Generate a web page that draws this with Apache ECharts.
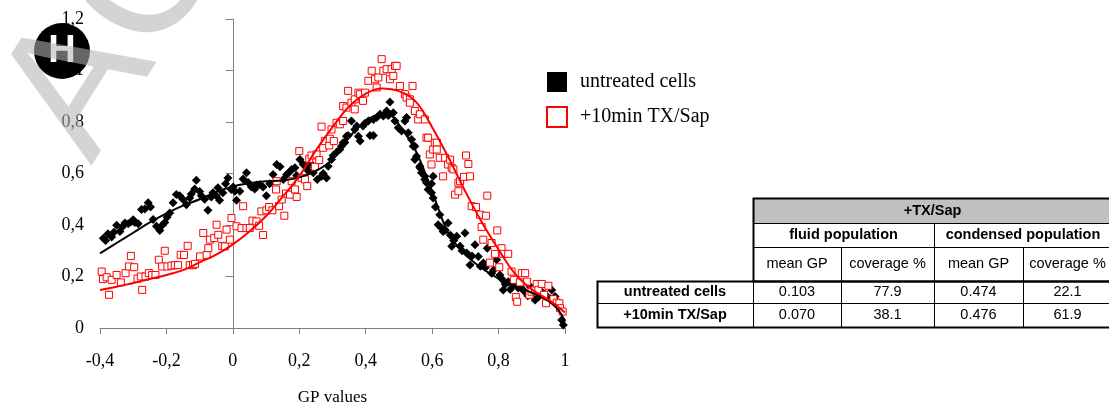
<!DOCTYPE html>
<html>
<head>
<meta charset="utf-8">
<script src="https://cdn.jsdelivr.net/npm/echarts@6/dist/echarts.min.js"></script>
<style>
html,body{margin:0;padding:0;background:#fff;}
#chart{width:1109px;height:406px;}
</style>
</head>
<body>
<div id="chart"></div>
<script>
// ---- data ----
const xTicks = [-0.4, -0.2, 0, 0.2, 0.4, 0.6, 0.8, 1];
const yTicks = [0, 0.2, 0.4, 0.6, 0.8, 1, 1.2];
const seriesNames = ['untreated cells', '+10min TX/Sap'];
const xAxisTitle = 'GP values';

const untreatedPoints = [
  [-0.390,0.349],[-0.383,0.340],[-0.376,0.366],[-0.365,0.353],[-0.358,0.372],[-0.350,0.399],[-0.340,0.375],[-0.333,0.392],
  [-0.325,0.408],[-0.315,0.405],[-0.305,0.414],[-0.300,0.420],[-0.295,0.410],[-0.285,0.405],[-0.275,0.460],[-0.265,0.462],
  [-0.255,0.486],[-0.248,0.470],[-0.240,0.421],[-0.230,0.395],[-0.220,0.379],[-0.212,0.400],[-0.205,0.410],[-0.198,0.430],
  [-0.190,0.447],[-0.180,0.486],[-0.170,0.518],[-0.160,0.514],[-0.150,0.499],[-0.140,0.479],[-0.130,0.505],[-0.125,0.520],
  [-0.115,0.540],[-0.110,0.574],[-0.100,0.530],[-0.095,0.514],[-0.085,0.500],[-0.075,0.457],[-0.065,0.509],[-0.060,0.525],
  [-0.050,0.514],[-0.045,0.545],[-0.040,0.496],[-0.030,0.525],[-0.022,0.560],[-0.015,0.583],[-0.005,0.538],
  [0.001,0.548],[0.006,0.531],[0.011,0.496],[0.021,0.531],[0.031,0.579],[0.041,0.603],[0.046,0.565],[0.056,0.548],
  [0.066,0.540],[0.071,0.555],[0.081,0.557],[0.091,0.548],[0.101,0.514],[0.111,0.560],[0.121,0.596],[0.132,0.635],
  [0.142,0.626],[0.152,0.577],[0.162,0.596],[0.170,0.605],[0.177,0.616],[0.187,0.622],[0.192,0.592],[0.202,0.654],
  [0.212,0.635],[0.222,0.622],[0.227,0.610],[0.232,0.642],[0.242,0.603],[0.254,0.577],[0.267,0.589],[0.272,0.600],
  [0.282,0.583],[0.287,0.628],[0.297,0.654],[0.302,0.670],[0.312,0.683],[0.322,0.693],[0.327,0.706],[0.332,0.719],
  [0.337,0.720],[0.342,0.745],[0.347,0.748],[0.357,0.804],[0.367,0.771],[0.373,0.784],[0.378,0.745],[0.383,0.726],
  [0.392,0.784],[0.398,0.795],[0.408,0.804],[0.413,0.748],[0.423,0.748],[0.423,0.810],[0.433,0.817],[0.443,0.830],
  [0.453,0.823],[0.458,0.830],[0.463,0.843],[0.468,0.825],[0.473,0.878],[0.483,0.836],[0.488,0.804],[0.498,0.778],
  [0.508,0.765],[0.518,0.804],[0.523,0.817],[0.528,0.758],[0.538,0.732],[0.543,0.706],[0.548,0.706],[0.548,0.654],
  [0.553,0.667],[0.563,0.622],[0.563,0.628],[0.568,0.603],[0.578,0.589],[0.578,0.577],[0.583,0.564],[0.588,0.538],
  [0.598,0.525],[0.598,0.560],[0.603,0.589],[0.603,0.505],[0.610,0.470],[0.618,0.401],[0.623,0.440],[0.628,0.388],
  [0.633,0.375],[0.640,0.380],[0.648,0.408],[0.655,0.360],[0.659,0.317],[0.665,0.340],[0.674,0.356],[0.684,0.317],
  [0.690,0.300],[0.699,0.369],[0.704,0.291],[0.714,0.245],[0.720,0.280],[0.729,0.323],[0.739,0.278],[0.745,0.240],
  [0.754,0.252],[0.760,0.235],[0.766,0.310],[0.779,0.213],[0.785,0.225],[0.794,0.265],[0.804,0.206],[0.810,0.190],
  [0.814,0.148],[0.820,0.170],[0.829,0.180],[0.835,0.150],[0.844,0.168],[0.850,0.180],[0.859,0.155],[0.865,0.160],
  [0.874,0.148],[0.880,0.140],[0.888,0.125],[0.895,0.161],[0.905,0.140],[0.910,0.109],[0.920,0.120],[0.930,0.141],
  [0.940,0.130],[0.945,0.102],[0.955,0.115],[0.960,0.148],[0.970,0.122],[0.980,0.096],[0.990,0.031],[0.995,0.012]
];

const txSapPoints = [
  [-0.395,0.219],[-0.391,0.190],[-0.380,0.197],[-0.373,0.129],[-0.365,0.187],[-0.350,0.206],[-0.337,0.177],[-0.323,0.213],
  [-0.313,0.239],[-0.307,0.280],[-0.297,0.236],[-0.287,0.192],[-0.277,0.200],[-0.273,0.148],[-0.263,0.200],[-0.253,0.213],
  [-0.243,0.206],[-0.233,0.206],[-0.223,0.265],[-0.213,0.239],[-0.205,0.300],[-0.197,0.239],[-0.185,0.242],[-0.175,0.244],
  [-0.165,0.244],[-0.157,0.284],[-0.147,0.284],[-0.136,0.319],[-0.130,0.244],[-0.120,0.244],[-0.114,0.249],[-0.099,0.278],
  [-0.089,0.369],[-0.079,0.284],[-0.074,0.310],[-0.069,0.343],[-0.056,0.349],[-0.049,0.401],[-0.044,0.362],[-0.032,0.319],
  [-0.024,0.317],[-0.019,0.382],[-0.009,0.343],[-0.004,0.427],[0.011,0.395],[0.026,0.388],[0.031,0.473],[0.041,0.388],
  [0.051,0.388],[0.059,0.417],[0.071,0.414],[0.079,0.397],[0.086,0.453],[0.091,0.361],[0.101,0.457],[0.109,0.470],
  [0.119,0.457],[0.130,0.538],[0.132,0.570],[0.139,0.473],[0.147,0.499],[0.155,0.436],[0.160,0.522],[0.172,0.518],
  [0.177,0.570],[0.187,0.538],[0.192,0.509],[0.200,0.687],[0.207,0.583],[0.217,0.577],[0.224,0.551],[0.230,0.657],
  [0.237,0.670],[0.247,0.626],[0.252,0.674],[0.260,0.652],[0.267,0.782],[0.272,0.700],[0.277,0.726],[0.290,0.709],
  [0.292,0.735],[0.297,0.771],[0.304,0.726],[0.312,0.797],[0.322,0.791],[0.332,0.804],[0.332,0.862],[0.342,0.856],
  [0.347,0.921],[0.357,0.875],[0.367,0.888],[0.367,0.849],[0.378,0.914],[0.383,0.908],[0.392,0.882],[0.398,0.914],
  [0.408,0.960],[0.418,0.999],[0.428,0.966],[0.433,0.934],[0.438,0.973],[0.448,1.044],[0.453,0.999],[0.463,1.005],
  [0.473,0.966],[0.478,1.005],[0.483,0.979],[0.488,1.018],[0.493,1.018],[0.503,0.940],[0.518,0.908],[0.523,0.895],
  [0.533,0.888],[0.533,0.875],[0.541,0.940],[0.548,0.843],[0.558,0.810],[0.563,0.830],[0.578,0.810],[0.583,0.739],
  [0.588,0.739],[0.593,0.674],[0.598,0.635],[0.603,0.693],[0.608,0.719],[0.614,0.720],[0.614,0.693],[0.623,0.661],
  [0.633,0.589],[0.639,0.661],[0.648,0.635],[0.654,0.654],[0.659,0.622],[0.664,0.616],[0.669,0.518],[0.679,0.564],
  [0.679,0.531],[0.684,0.570],[0.696,0.587],[0.702,0.670],[0.709,0.637],[0.714,0.589],[0.719,0.473],[0.732,0.470],
  [0.744,0.440],[0.749,0.392],[0.754,0.343],[0.762,0.436],[0.766,0.514],[0.774,0.254],[0.779,0.330],[0.789,0.288],
  [0.796,0.379],[0.802,0.236],[0.809,0.310],[0.814,0.288],[0.829,0.288],[0.839,0.219],[0.846,0.187],[0.852,0.120],
  [0.856,0.102],[0.864,0.177],[0.870,0.213],[0.880,0.213],[0.886,0.180],[0.893,0.129],[0.899,0.141],[0.910,0.148],
  [0.915,0.171],[0.920,0.148],[0.930,0.171],[0.937,0.129],[0.943,0.096],[0.950,0.164],[0.965,0.112],[0.975,0.099],
  [0.983,0.096],[0.985,0.077],[0.993,0.064]
];

const untreatedFit = [
  [-0.40,0.290],[-0.35,0.330],[-0.30,0.370],[-0.25,0.410],[-0.20,0.445],[-0.15,0.475],[-0.10,0.500],[-0.05,0.528],
  [0.00,0.550],[0.05,0.562],[0.10,0.570],[0.15,0.573],[0.20,0.585],[0.25,0.610],[0.30,0.655],[0.35,0.740],
  [0.40,0.805],[0.45,0.830],[0.48,0.822],[0.50,0.790],[0.55,0.690],[0.60,0.530],[0.65,0.365],[0.70,0.285],
  [0.75,0.232],[0.80,0.192],[0.85,0.162],[0.90,0.137],[0.95,0.105],[0.98,0.070],[1.00,0.025]
];

const txSapFit = [
  [-0.40,0.148],[-0.35,0.160],[-0.30,0.175],[-0.25,0.190],[-0.20,0.206],[-0.15,0.225],[-0.10,0.255],[-0.05,0.285],
  [0.00,0.325],[0.05,0.375],[0.10,0.435],[0.15,0.510],[0.20,0.590],[0.25,0.690],[0.30,0.780],[0.35,0.860],
  [0.40,0.910],[0.45,0.930],[0.50,0.920],[0.55,0.880],[0.60,0.780],[0.65,0.660],[0.70,0.530],[0.75,0.410],
  [0.80,0.305],[0.85,0.210],[0.90,0.150],[0.95,0.110],[1.00,0.060]
];

const tableTitle = '+TX/Sap';
const tableGroups = ['fluid population', 'condensed population'];
const tableColumns = ['mean GP', 'coverage %', 'mean GP', 'coverage %'];
const tableRows = ['untreated cells', '+10min TX/Sap'];
const tableValues = [
  ['0.103', '77.9', '0.474', '22.1'],
  ['0.070', '38.1', '0.476', '61.9']
];
const panelLetter = 'H';
const watermarkText = 'ACCEPTED MANUSCRIPT';

// ---- layout / styles ----
const SERIF = '"Liberation Serif","Times New Roman",serif';
const SANS = '"Liberation Sans",Arial,sans-serif';
const fmt = v => String(Math.round(v * 10) / 10).replace('.', ',');

const colX = [597, 753, 841, 934, 1023, 1112];
const rowY = [198, 223, 247, 281, 303, 327];

function cellRect(x0, y0, x1, y1, fill, lw) {
  return {
    type: 'rect', silent: true, z: 10,
    shape: { x: x0 + 0.5, y: y0 + 0.5, width: x1 - x0, height: y1 - y0 },
    style: { fill: fill || 'rgba(0,0,0,0)', stroke: '#000', lineWidth: lw || 1 }
  };
}
function cellText(txt, cx, cy, bold) {
  return {
    type: 'text', silent: true, z: 11, x: cx, y: cy,
    style: { text: txt, font: (bold ? 'bold ' : '') + '14.5px ' + SANS, fill: '#000', align: 'center', verticalAlign: 'middle' }
  };
}

const graphics = [];
// table
graphics.push(cellRect(colX[1], rowY[0], colX[5], rowY[1], '#c0c0c0'));
graphics.push(cellText(tableTitle, (colX[1] + colX[5]) / 2, (rowY[0] + rowY[1]) / 2, true));
tableGroups.forEach((g, i) => {
  const a = colX[1 + i * 2], b = colX[3 + i * 2];
  graphics.push(cellRect(a, rowY[1], b, rowY[2]));
  graphics.push(cellText(g, (a + b) / 2, (rowY[1] + rowY[2]) / 2, true));
});
tableColumns.forEach((c, i) => {
  graphics.push(cellRect(colX[i + 1], rowY[2], colX[i + 2], rowY[3]));
  graphics.push(cellText(c, (colX[i + 1] + colX[i + 2]) / 2, (rowY[2] + rowY[3]) / 2, false));
});
tableRows.forEach((r, j) => {
  const y0 = rowY[3 + j], y1 = rowY[4 + j];
  graphics.push(cellRect(colX[0], y0, colX[1], y1));
  graphics.push(cellText(r, (colX[0] + colX[1]) / 2, (y0 + y1) / 2, true));
  tableValues[j].forEach((v, i) => {
    graphics.push(cellRect(colX[i + 1], y0, colX[i + 2], y1));
    graphics.push(cellText(v, (colX[i + 1] + colX[i + 2]) / 2, (y0 + y1) / 2, false));
  });
});
graphics.push(cellRect(colX[1], rowY[0], colX[5], rowY[3], null, 2));
graphics.push(cellRect(colX[0], rowY[3], colX[5], rowY[5], null, 2));

// panel letter
graphics.push({ type: 'circle', silent: true, z: 20, shape: { cx: 62, cy: 51, r: 28 }, style: { fill: '#000' } });
graphics.push({ type: 'text', silent: true, z: 21, x: 62, y: 52,
  style: { text: panelLetter, font: 'bold 38px ' + SANS, fill: '#fff', align: 'center', verticalAlign: 'middle' } });
// watermark
graphics.push({ type: 'text', silent: true, z: 100, x: 48, y: 139, rotation: 58 * Math.PI / 180,
  style: { text: watermarkText, font: '185px ' + SANS, fill: 'rgba(179,179,179,0.57)', align: 'left', verticalAlign: 'middle' } });

const chart = echarts.init(document.getElementById('chart'), null, { renderer: 'canvas' });
chart.setOption({
  animation: false,
  backgroundColor: '#fff',
  grid: { left: 100, right: 544, top: 19, bottom: 78, containLabel: false, outerBoundsMode: 'none' },
  legend: {
    orient: 'vertical', left: 546, top: 72, padding: 0,
    itemWidth: 20, itemHeight: 20, itemGap: 14,
    selectedMode: false,
    textStyle: { fontFamily: SERIF, fontSize: 20, color: '#000', padding: [0, 0, 0, 8] },
    data: [
      { name: seriesNames[0], icon: 'rect', itemStyle: { color: '#000', opacity: 1 } },
      { name: seriesNames[1], icon: 'rect', itemStyle: { color: '#fff', borderColor: '#ff0000', borderWidth: 2, opacity: 1 } }
    ]
  },
  xAxis: {
    type: 'value', min: xTicks[0], max: xTicks[xTicks.length - 1], interval: 0.2,
    name: xAxisTitle, nameLocation: 'middle', nameGap: 61,
    nameTextStyle: { fontFamily: SERIF, fontSize: 17, color: '#000' },
    axisLine: { onZero: false, lineStyle: { color: '#808080', width: 1 } },
    axisTick: { length: 6, lineStyle: { color: '#808080' } },
    axisLabel: { margin: 24, fontFamily: SERIF, fontSize: 18, color: '#000', formatter: fmt },
    splitLine: { show: false }
  },
  yAxis: {
    type: 'value', min: yTicks[0], max: yTicks[yTicks.length - 1], interval: 0.2,
    axisLine: { show: true, onZero: true, lineStyle: { color: '#808080', width: 1 } },
    axisTick: { show: true, length: 7, lineStyle: { color: '#808080' } },
    axisLabel: { margin: 16, fontFamily: SERIF, fontSize: 18, color: '#000', formatter: fmt },
    splitLine: { show: false }
  },
  series: [
    {
      name: seriesNames[0], type: 'scatter', data: untreatedPoints, z: 2,
      symbol: 'diamond', symbolSize: 9, itemStyle: { color: '#000', opacity: 1 }
    },
    {
      name: seriesNames[1], type: 'scatter', data: txSapPoints, z: 3,
      symbol: 'rect', symbolSize: 7, itemStyle: { color: '#fff', borderColor: '#ff0000', borderWidth: 1, opacity: 1 }
    },
    {
      name: 'fit untreated', type: 'line', data: untreatedFit, z: 4, smooth: 0.4,
      showSymbol: false, lineStyle: { color: '#000', width: 2 }
    },
    {
      name: 'fit TX/Sap', type: 'line', data: txSapFit, z: 4, smooth: 0.4,
      showSymbol: false, lineStyle: { color: '#ff0000', width: 2 }
    }
  ],
  graphic: { elements: graphics }
});
</script>
</body>
</html>
